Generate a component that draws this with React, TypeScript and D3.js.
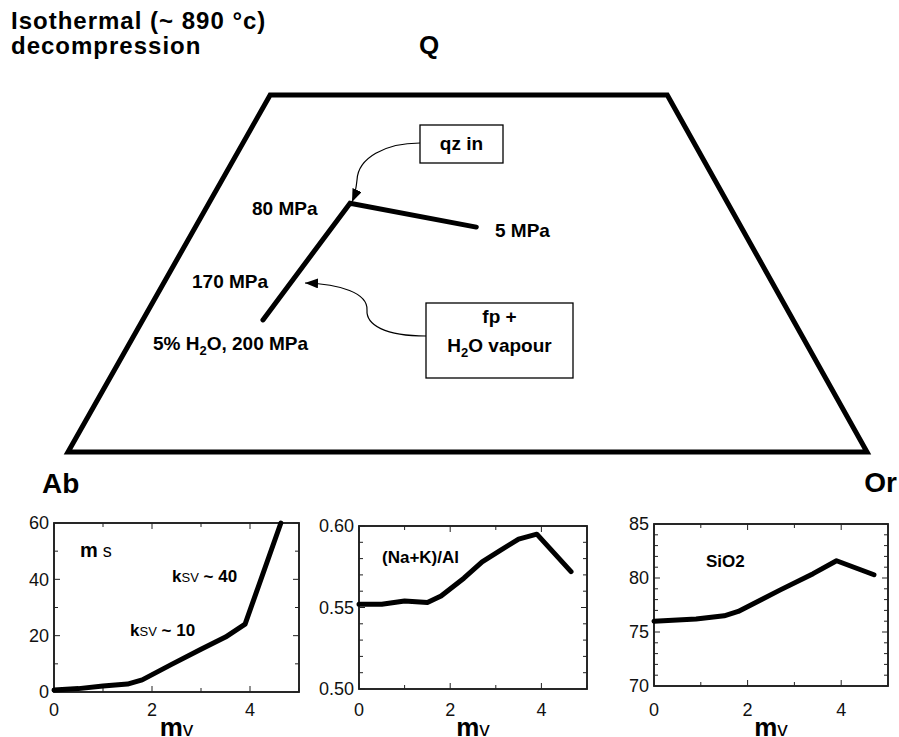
import React from 'react';
import * as d3 from 'd3';

// ---------- data ----------
const TITLE_LINES = ['Isothermal (~ 890 °c)', 'decompression'];
const APEX_LABELS = ['Q', 'Ab', 'Or'];

// trapezoid outline in diagram units (u: Ab→Or, v: up toward Q)
const TRAP_U = [0, 25.3, 75, 100];
const TRAP_V = [0, 100, 100, 0];
// decompression path (200 MPa → 80 MPa → 5 MPa)
const PATH_U = [24.4, 35.3, 51.1];
const PATH_V = [37.0, 69.7, 63.0];

// panel 1: ms vs mv
const MV_A = [0, 0.5, 1, 1.5, 1.8, 2.4, 3, 3.5, 3.9, 4.63];
const MS_A = [0.7, 1.2, 2.1, 2.8, 4.3, 9.8, 15.2, 19.5, 24.1, 60];
// panel 2: (Na+K)/Al vs mv
const MV_B = [0, 0.5, 1, 1.5, 1.8, 2.3, 2.7, 3.1, 3.5, 3.9, 4.65];
const NKA_B = [0.552, 0.552, 0.554, 0.553, 0.557, 0.568, 0.578, 0.585, 0.592, 0.595, 0.572];
// panel 3: SiO2 vs mv
const MV_C = [0, 0.9, 1.5, 1.8, 2.3, 2.7, 3.4, 3.9, 4.7];
const SIO2_C = [76.0, 76.2, 76.5, 76.9, 78.0, 78.9, 80.4, 81.6, 80.3];

const X_TICKS = [0, 2, 4];
const Y_TICKS_A = [0, 20, 40, 60];
const Y_TICKS_B = [0.5, 0.55, 0.6];
const Y_TICKS_C = [70, 75, 80, 85];

const FONT = "'Liberation Sans', Arial, Helvetica, sans-serif";

type PanelProps = {
  x0: number; x1: number; y0: number; y1: number;
  yDomain: [number, number];
  yTicks: number[];
  yMinorStep: number;
  fmt: (v: number) => string;
  xs: number[]; ys: number[];
  children?: React.ReactNode;
};

function Panel({ x0, x1, y0, y1, yDomain, yTicks, yMinorStep, fmt, xs, ys, children }: PanelProps) {
  const x = d3.scaleLinear().domain([0, 5]).range([x0, x1]);
  const y = d3.scaleLinear().domain(yDomain).range([y1, y0]);
  const line = d3.line<number>().x((_, i) => x(xs[i])).y((_, i) => y(ys[i]));
  const nMinorY = Math.round((yDomain[1] - yDomain[0]) / yMinorStep);
  const minorY = d3.range(nMinorY + 1).map(i => yDomain[0] + i * yMinorStep);
  const minorX = d3.range(0, 6);
  const isMajorY = (v: number) => yTicks.some(t => Math.abs(t - v) < 1e-9);
  return (
    <g>
      <rect x={x0} y={y0} width={x1 - x0} height={y1 - y0} fill="none" stroke="#111" strokeWidth={1.8} />
      {minorY.map((v, i) => {
        const L = isMajorY(v) ? 6 : 4;
        return (
          <g key={'y' + i} stroke="#222" strokeWidth={1}>
            <line x1={x0} x2={x0 + L} y1={y(v)} y2={y(v)} />
            <line x1={x1} x2={x1 - L} y1={y(v)} y2={y(v)} />
          </g>
        );
      })}
      {minorX.map((v, i) => {
        const L = X_TICKS.includes(v) ? 6 : 4;
        return (
          <g key={'x' + i} stroke="#222" strokeWidth={1}>
            <line x1={x(v)} x2={x(v)} y1={y1} y2={y1 - L} />
            <line x1={x(v)} x2={x(v)} y1={y0} y2={y0 + L} />
          </g>
        );
      })}
      {yTicks.map((v, i) => (
        <text key={'yl' + i} x={x0 - 5} y={y(v)} dy="0.35em" textAnchor="end" fontSize={18} fontFamily={FONT} fill="#111">
          {fmt(v)}
        </text>
      ))}
      {X_TICKS.map((v, i) => (
        <text key={'xl' + i} x={x(v)} y={716} textAnchor="middle" fontSize={18} fontFamily={FONT} fill="#111">
          {String(v)}
        </text>
      ))}
      <path d={line(xs) || ''} fill="none" stroke="#000" strokeWidth={5} strokeLinejoin="round" strokeLinecap="round" />
      <text x={(x0 + x1) / 2} y={736} textAnchor="middle" fontFamily={FONT} fill="#000">
        <tspan fontSize={26} fontWeight="bold">m</tspan>
        <tspan fontSize={21}>v</tspan>
      </text>
      {children}
    </g>
  );
}

export default function App() {
  const u = d3.scaleLinear().domain([0, 100]).range([68, 867]);
  const v = d3.scaleLinear().domain([0, 100]).range([452, 95]);
  const trap = d3.line<number>().x((_, i) => u(TRAP_U[i])).y((_, i) => v(TRAP_V[i]));
  const path = d3.line<number>().x((_, i) => u(PATH_U[i])).y((_, i) => v(PATH_V[i]));
  const bold = { fontFamily: FONT, fontWeight: 'bold' as const, fill: '#000' };

  return (
    <svg width={899} height={737} style={{ position: 'absolute', left: 0, top: 0, background: '#fff' }}>
      <defs>
        <marker id="ah" markerUnits="userSpaceOnUse" markerWidth={14} markerHeight={12} refX={13} refY={5} orient="auto">
          <path d="M0,0 L13,5 L0,10 Z" fill="#000" />
        </marker>
      </defs>
      <rect x={0} y={0} width={899} height={737} fill="#fff" />

      {/* title */}
      <text x={11} y={29} fontSize={24} letterSpacing={1} {...bold}>{TITLE_LINES[0]}</text>
      <text x={11} y={54} fontSize={24} letterSpacing={1} {...bold}>{TITLE_LINES[1]}</text>
      <text x={429} y={54} fontSize={26} textAnchor="middle" {...bold}>{APEX_LABELS[0]}</text>

      {/* trapezoid */}
      <path d={(trap(TRAP_U) || '') + 'Z'} fill="none" stroke="#000" strokeWidth={5} strokeLinejoin="miter" />
      <path d={path(PATH_U) || ''} fill="none" stroke="#000" strokeWidth={5} strokeLinecap="round" strokeLinejoin="miter" />

      <text x={252} y={215} fontSize={19} {...bold}>80 MPa</text>
      <text x={495} y={237} fontSize={19} {...bold}>5 MPa</text>
      <text x={192} y={288} fontSize={19} {...bold}>170 MPa</text>
      <text x={153} y={350} fontSize={19} {...bold}>
        <tspan>5% H</tspan>
        <tspan fontSize={13} dy={5}>2</tspan>
        <tspan dy={-5}>O, 200 MPa</tspan>
      </text>

      {/* qz in box + arrow */}
      <rect x={420} y={125} width={83} height={38} fill="#fff" stroke="#000" strokeWidth={1.3} />
      <text x={461.5} y={150} fontSize={19} textAnchor="middle" {...bold}>qz in</text>
      <path d="M420,143 C385,143 358,158 357,180 C356,190 355,195 352,202" fill="none" stroke="#000" strokeWidth={1.2} markerEnd="url(#ah)" />

      {/* fp + H2O vapour box + arrow */}
      <rect x={426} y={303} width={147} height={75} fill="#fff" stroke="#000" strokeWidth={1.3} />
      <text x={499.5} y={323} fontSize={19} textAnchor="middle" {...bold}>fp +</text>
      <text x={499.5} y={352} fontSize={19} textAnchor="middle" {...bold}>
        <tspan>H</tspan>
        <tspan fontSize={13} dy={5}>2</tspan>
        <tspan dy={-5}>O vapour</tspan>
      </text>
      <path d="M426,336 C385,336 366,325 367,310 C368,293 340,284 305,283" fill="none" stroke="#000" strokeWidth={1.2} markerEnd="url(#ah)" />

      <text x={42} y={493} fontSize={28} {...bold}>{APEX_LABELS[1]}</text>
      <text x={897} y={492} fontSize={28} textAnchor="end" {...bold}>{APEX_LABELS[2]}</text>

      {/* panels */}
      <Panel x0={54} x1={299} y0={523} y1={692} yDomain={[0, 60]} yTicks={Y_TICKS_A} yMinorStep={10}
        fmt={d => String(d)} xs={MV_A} ys={MS_A}>
        <text x={80} y={557} fontFamily={FONT} fill="#000">
          <tspan fontSize={20} fontWeight="bold">m</tspan>
          <tspan fontSize={18}> s</tspan>
        </text>
        <text x={172} y={582} fontFamily={FONT} fill="#000">
          <tspan fontSize={17} fontWeight="bold">k</tspan>
          <tspan fontSize={13}>SV</tspan>
          <tspan fontSize={17} fontWeight="bold"> ~ 40</tspan>
        </text>
        <text x={130} y={636} fontFamily={FONT} fill="#000">
          <tspan fontSize={17} fontWeight="bold">k</tspan>
          <tspan fontSize={13}>SV</tspan>
          <tspan fontSize={17} fontWeight="bold"> ~ 10</tspan>
        </text>
      </Panel>

      <Panel x0={359} x1={587} y0={526} y1={689} yDomain={[0.5, 0.6]} yTicks={Y_TICKS_B} yMinorStep={0.01}
        fmt={d => d.toFixed(2)} xs={MV_B} ys={NKA_B}>
        <text x={382} y={563} fontSize={17} {...bold}>(Na+K)/Al</text>
      </Panel>

      <Panel x0={654} x1={888} y0={524} y1={686} yDomain={[70, 85]} yTicks={Y_TICKS_C} yMinorStep={1}
        fmt={d => String(d)} xs={MV_C} ys={SIO2_C}>
        <text x={706} y={567} fontSize={17} {...bold}>SiO2</text>
      </Panel>
    </svg>
  );
}
